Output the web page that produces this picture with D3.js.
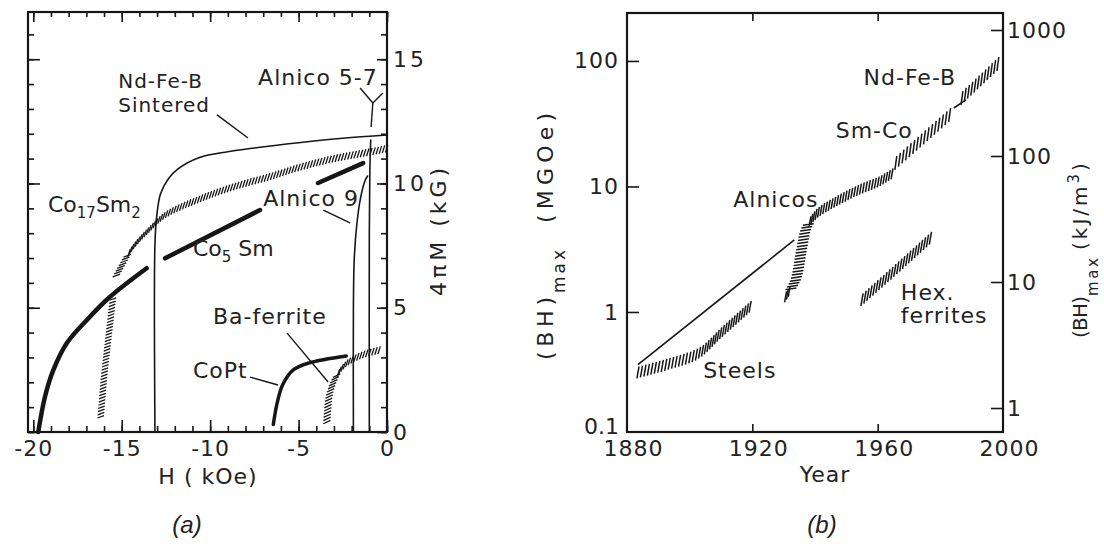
<!DOCTYPE html>
<html>
<head>
<meta charset="utf-8">
<script src="https://cdn.jsdelivr.net/npm/d3@7"></script>
<style>
  body { margin: 0; background: #fff; }
  text { font-family: 'DejaVu Sans', sans-serif; fill: #222; }
</style>
</head>
<body>
<svg id="fig" width="1104" height="544"></svg>
<script>
// ---- panel (a): demagnetization curves, H (kOe) vs 4piM (kG)
const hTicks = d3.range(-20, 1)
const hLabels = [-20, -15, -10, -5, 0]
const mTicks = d3.range(0, 17)
const mLabels = [0, 5, 10, 15]

const ndfebSintered = [[-13.12, 0], [-13.12, 7.6], [-13.02, 8.7], [-12.8, 9.6], [-12.35, 10.2], [-11.8, 10.6],
  [-10.6, 11.05], [-9, 11.28], [-7.5, 11.43], [-5, 11.64], [-2.5, 11.82], [0, 11.95]]
const co17sm2 = [[-15.3, 6.3], [-14.4, 7.4], [-13.3, 8.25], [-12.5, 8.75], [-10.5, 9.4], [-8.7, 9.86],
  [-6.5, 10.3], [-4.9, 10.66], [-3, 11.0], [-1.1, 11.25], [0, 11.4]]
const co17sm2Knee = [[-15.5, 5.35], [-15.75, 3.8], [-16.0, 2.2], [-16.2, 0.5]]
const co5sm = [[-19.72, 0], [-19.34, 1.42], [-18.87, 2.49], [-18.11, 3.57], [-16.98, 4.5], [-15.66, 5.44],
  [-13.59, 6.59], null, [-12.55, 6.99], [-7.18, 8.93], null, [-3.9, 10.02], [-1.35, 10.82]]
const alnico9 = [[-1.9, 0], [-1.9, 5], [-1.85, 7.0], [-1.7, 8.4], [-1.5, 9.4], [-1.25, 10.1], [-1.1, 10.3]]
const alnico57 = [[-1.0, 0], [-1.0, 8], [-0.97, 10.5], [-0.92, 11.75]]
const baFerrite = [[-3.4, 0.4], [-3.25, 1.5], [-2.9, 2.2], [-2.3, 2.75], [-1.4, 3.1], [-0.4, 3.3]]
const coPt = [[-6.43, 0.3], [-6.2, 1.2], [-5.9, 1.9], [-5.3, 2.5], [-4.4, 2.78], [-2.3, 3.06]]

// ---- panel (b): (BH)max vs year
const yearLabels = [1880, 1920, 1960, 2000]
const yearTicks = [1920, 1960]
const bhTicks = [1, 10, 100]
const kjTicks = [1, 10, 100, 1000]

const steels = [[1883.5, 0.33], [1894, 0.39], [1903, 0.47], [1910, 0.68], [1920, 1.14]]
const steelsTrend = [[1883.5, 0.38], [1933.4, 3.75]]
const alnicos = [[1930.6, 1.32], [1933.8, 1.8], [1935.7, 3.12], [1937.3, 4.67], [1940.5, 6.04],
  [1945.9, 7.39], [1953.9, 9.38], [1960.3, 10.9], [1965, 12.8]]
const smCo = [[1965.8, 15.4], [1974.7, 24.3], [1983.7, 38.5]]
const smCoToNd = [[1984.3, 42.2], [1988.2, 48.9]]
const ndFeB = [[1986.9, 50.7], [1992.3, 68], [1998.7, 96.4]]
const hexFerrites = [[1955, 1.25], [1966, 2.2], [1977, 3.9]]

const ink = '#161616'
const svg = d3.select('#fig')

const xa = d3.scaleLinear().domain([-20.3, 0]).range([28, 387])
const ya = d3.scaleLinear().domain([0, 16.9]).range([432, 12])
const xb = d3.scaleLinear().domain([1880, 2000]).range([627, 1003])
const yb = d3.scaleLog().domain([0.1106, 241]).range([432, 13])
const yk = d3.scaleLog().domain([0.645, 1364]).range([432, 13])

const lineOf = (x, y) => d3.line().defined(d => d).x(d => x(d[0])).y(d => y(d[1]))
  .curve(d3.curveCatmullRom.alpha(0.5))

function hatch(g, pts, x, y, o) {
  const path = g.append('path').attr('d', lineOf(x, y)(pts)).attr('fill', 'none')
  const node = path.node()
  const total = node.getTotalLength()
  const marks = []
  for (let s = 0; s <= total; s += o.step) {
    const a = node.getPointAtLength(Math.max(0, s - 1.5))
    const b = node.getPointAtLength(Math.min(total, s + 1.5))
    const p = node.getPointAtLength(s)
    const steep = Math.abs(b.y - a.y) > 1.6 * Math.abs(b.x - a.x)
    const ang = (steep ? o.steepAngle : o.angle) * Math.PI / 180
    const dx = Math.cos(ang) * o.len / 2, dy = -Math.sin(ang) * o.len / 2
    marks.push([p.x - dx, p.y - dy, p.x + dx, p.y + dy])
  }
  path.remove()
  g.append('g').selectAll('line').data(marks).join('line')
    .attr('x1', d => d[0]).attr('y1', d => d[1])
    .attr('x2', d => d[2]).attr('y2', d => d[3])
    .attr('stroke', ink).attr('stroke-width', o.width || 1.3)
}

function styleAxis(g, size) {
  g.select('.domain').remove()
  g.selectAll('line').attr('stroke', ink).attr('stroke-width', 1.6)
  g.selectAll('text').style('font-size', size + 'px').style('letter-spacing', '1px')
}

// two-line label as a single text element
const twoLines = (g, x, y, a, b, gap, size) => {
  const t = g.append('text').attr('x', x).attr('y', y).style('font-size', size + 'px').style('letter-spacing', '1px')
  t.append('tspan').attr('x', x).text(a)
  t.append('tspan').attr('x', x).attr('dy', gap).text(b)
}

// ================= panel (a)
const pa = svg.append('g')
pa.append('rect').attr('x', xa.range()[0]).attr('y', ya.range()[1])
  .attr('width', xa.range()[1] - xa.range()[0]).attr('height', ya.range()[0] - ya.range()[1])
  .attr('fill', 'none').attr('stroke', ink).attr('stroke-width', 2.2)

pa.append('g').attr('transform', `translate(0,${ya.range()[0]})`)
  .call(d3.axisBottom(xa).tickValues(hTicks).tickSize(-6).tickFormat('')).call(g => styleAxis(g, 22))
pa.append('g').attr('transform', `translate(0,${ya.range()[0]})`)
  .call(d3.axisBottom(xa).tickValues(hLabels).tickSize(-12).tickPadding(8).tickFormat(d => String(d)))
  .call(g => styleAxis(g, 22))
pa.append('g').attr('transform', `translate(0,${ya.range()[1]})`)
  .call(d3.axisTop(xa).tickValues(hTicks).tickSize(-5).tickFormat('')).call(g => styleAxis(g, 22))
pa.append('g').attr('transform', `translate(0,${ya.range()[1]})`)
  .call(d3.axisTop(xa).tickValues(hLabels).tickSize(-10).tickFormat('')).call(g => styleAxis(g, 22))
pa.append('g').attr('transform', `translate(${xa.range()[0]},0)`)
  .call(d3.axisLeft(ya).tickValues(mTicks).tickSize(-6).tickFormat('')).call(g => styleAxis(g, 22))
pa.append('g').attr('transform', `translate(${xa.range()[0]},0)`)
  .call(d3.axisLeft(ya).tickValues(mLabels).tickSize(-12).tickFormat('')).call(g => styleAxis(g, 22))
pa.append('g').attr('transform', `translate(${xa.range()[1]},0)`)
  .call(d3.axisRight(ya).tickValues(mTicks).tickSize(-6).tickFormat('')).call(g => styleAxis(g, 22))
pa.append('g').attr('transform', `translate(${xa.range()[1]},0)`)
  .call(d3.axisRight(ya).tickValues(mLabels).tickSize(-10).tickPadding(6).tickFormat(d => String(d)))
  .call(g => styleAxis(g, 22))
  .call(g => g.selectAll('text').style('letter-spacing', '3px'))

// curves
const curvesA = pa.append('g').attr('fill', 'none').attr('stroke', ink).attr('stroke-linecap', 'round')
curvesA.append('path').attr('d', lineOf(xa, ya)(ndfebSintered)).attr('stroke-width', 1.6)
curvesA.append('path').attr('d', lineOf(xa, ya)(alnico9)).attr('stroke-width', 1.6)
curvesA.append('path').attr('d', lineOf(xa, ya)(alnico57)).attr('stroke-width', 1.6)
curvesA.append('path').attr('d', lineOf(xa, ya)(co5sm)).attr('stroke-width', 4.5)
curvesA.append('path').attr('d', lineOf(xa, ya)(coPt)).attr('stroke-width', 3.5)
hatch(pa, co17sm2, xa, ya, { step: 3.2, len: 8, angle: 72, steepAngle: 20 })
hatch(pa, co17sm2Knee, xa, ya, { step: 3.2, len: 7, angle: 72, steepAngle: 20 })
hatch(pa, baFerrite, xa, ya, { step: 3.2, len: 8, angle: 72, steepAngle: 25 })

// labels and leaders
const labelsA = [
  { text: 'Alnico 5-7', h: -7.29, m: 13.96 },
  { text: 'Alnico 9', h: -7.0, m: 9.09 },
  { text: 'Ba-ferrite', h: -9.84, m: 4.35 },
  { text: 'CoPt', h: -10.97, m: 2.17 }
]
const leadersA = [
  [[-9.61, 12.76], [-7.86, 11.83]],
  [[-1.52, 13.84], [-0.8, 13.24]],
  [[-0.23, 13.64], [-0.8, 13.24]],
  [[-0.8, 13.24], [-0.9, 12.27]],
  [[-3.6, 8.93], [-2.09, 8.41]],
  [[-5.65, 3.98], [-3.33, 2.01]],
  [[-7.74, 2.21], [-6.16, 1.89]]
]
pa.append('g').selectAll('text').data(labelsA).join('text')
  .attr('x', d => xa(d.h)).attr('y', d => ya(d.m))
  .style('font-size', '22px').style('letter-spacing', '1px').text(d => d.text)
twoLines(pa, xa(-15.2), ya(13.85), 'Nd-Fe-B', 'Sintered', 24, 20)
pa.append('g').selectAll('line').data(leadersA).join('line')
  .attr('x1', d => xa(d[0][0])).attr('y1', d => ya(d[0][1]))
  .attr('x2', d => xa(d[1][0])).attr('y2', d => ya(d[1][1]))
  .attr('stroke', ink).attr('stroke-width', 1.4)

const subLabel = (g, x, y, parts) => {
  const t = g.append('text').attr('x', x).attr('y', y).style('font-size', '22px')
  parts.forEach(([s, sub]) => {
    t.append('tspan').attr('dy', sub ? 6 : (t.selectAll('tspan').size() ? -6 : 0))
      .style('font-size', sub ? '15px' : '22px').text(s)
  })
}
subLabel(pa, xa(-19.17), ya(8.61), [['Co', 0], ['17', 1], ['Sm', 0], ['2', 1]])
subLabel(pa, xa(-10.97), ya(6.84), [['Co', 0], ['5', 1], ['\u00a0Sm', 0]])

pa.append('text').attr('x', 208).attr('y', 484).attr('text-anchor', 'middle')
  .style('font-size', '22px').style('letter-spacing', '1px').text('H ( kOe)')
pa.append('text').attr('transform', 'translate(446,230) rotate(-90)').attr('text-anchor', 'middle')
  .style('font-size', '22px').style('letter-spacing', '4px').text('4\u03c0M (kG)')
pa.append('text').attr('x', 187).attr('y', 533).attr('text-anchor', 'middle')
  .style('font-family', "'Liberation Sans', sans-serif").style('font-style', 'italic')
  .style('font-size', '24px').text('(a)')

// ================= panel (b)
const pb = svg.append('g')
pb.append('rect').attr('x', xb.range()[0]).attr('y', yb.range()[1])
  .attr('width', xb.range()[1] - xb.range()[0]).attr('height', yb.range()[0] - yb.range()[1])
  .attr('fill', 'none').attr('stroke', ink).attr('stroke-width', 2.2)

pb.append('g').attr('transform', `translate(0,${yb.range()[0]})`)
  .call(d3.axisBottom(xb).tickValues(yearTicks).tickSize(-8).tickFormat('')).call(g => styleAxis(g, 22))
pb.append('g').attr('transform', `translate(0,${yb.range()[0]})`)
  .call(d3.axisBottom(xb).tickValues(yearLabels).tickSize(0).tickPadding(8).tickFormat(d => String(d)))
  .call(g => styleAxis(g, 22))
  .call(g => g.selectAll('text').attr('dx', 6))
pb.append('g').attr('transform', `translate(0,${yb.range()[1]})`)
  .call(d3.axisTop(xb).tickValues(yearTicks).tickSize(-8).tickFormat('')).call(g => styleAxis(g, 22))
pb.append('g').attr('transform', `translate(${xb.range()[0]},0)`)
  .call(d3.axisLeft(yb).tickValues(bhTicks).tickSize(-12).tickPadding(8).tickFormat(d => String(d)))
  .call(g => styleAxis(g, 22))
pb.append('text').attr('x', xb.range()[0] - 8).attr('y', yb.range()[0] - 5).attr('dy', '0.32em')
  .attr('text-anchor', 'end').style('font-size', '22px').text('0.1')
pb.append('g').attr('transform', `translate(${xb.range()[1]},0)`)
  .call(d3.axisRight(yk).tickValues(kjTicks).tickSize(-12).tickPadding(4).tickFormat(d => String(d)))
  .call(g => styleAxis(g, 22))

const curvesB = pb.append('g').attr('fill', 'none').attr('stroke', ink)
curvesB.append('path').attr('d', lineOf(xb, yb)(steelsTrend)).attr('stroke-width', 1.6)
curvesB.append('path').attr('d', lineOf(xb, yb)(smCoToNd)).attr('stroke-width', 1.6)
hatch(pb, steels, xb, yb, { step: 3.6, len: 12, angle: 80, steepAngle: 8, width: 1.5 })
hatch(pb, alnicos, xb, yb, { step: 3.2, len: 11, angle: 80, steepAngle: 8, width: 1.5 })
hatch(pb, smCo, xb, yb, { step: 4.8, len: 14, angle: 82, steepAngle: 8, width: 1.5 })
hatch(pb, ndFeB, xb, yb, { step: 4.5, len: 14, angle: 82, steepAngle: 8, width: 1.5 })
hatch(pb, hexFerrites, xb, yb, { step: 4, len: 13, angle: 80, steepAngle: 8, width: 1.5 })

const labelsB = [
  { text: 'Nd-Fe-B', year: 1955.5, v: 64.4 },
  { text: 'Sm-Co', year: 1946.6, v: 24.3 },
  { text: 'Alnicos', year: 1913.9, v: 6.87 },
  { text: 'Steels', year: 1904.3, v: 0.298 }
]
pb.append('g').selectAll('text').data(labelsB).join('text')
  .attr('x', d => xb(d.year)).attr('y', d => yb(d.v))
  .style('font-size', '22px').style('letter-spacing', '1px').text(d => d.text)
twoLines(pb, xb(1967.4), yb(1.25), 'Hex.', 'ferrites', 23, 22)

pb.append('text').attr('x', 825).attr('y', 482).attr('text-anchor', 'middle')
  .style('font-size', '22px').style('letter-spacing', '1px').text('Year')
pb.append('text').attr('x', 822).attr('y', 533).attr('text-anchor', 'middle')
  .style('font-family', "'Liberation Sans', sans-serif").style('font-style', 'italic')
  .style('font-size', '24px').text('(b)')

const vtext = (x, y, s, size, len) => pb.append('text')
  .attr('transform', `translate(${x},${y}) rotate(-90)`)
  .attr('textLength', len).attr('lengthAdjust', 'spacing')
  .style('font-size', size + 'px').text(s)
vtext(553, 360, '(BH)', 22, 63)
vtext(565, 293, 'max', 17, 43)
vtext(553, 223, '(MGOe)', 22, 110)
vtext(1087, 338, '(BH)', 20, 42)
vtext(1098, 296, 'max', 15, 38)
const kj = pb.append('text').attr('transform', 'translate(1087,250) rotate(-90)')
  .style('font-size', '20px').style('letter-spacing', '3px')
kj.append('tspan').text('(kJ/m')
kj.append('tspan').attr('dy', -8).style('font-size', '15px').text('3')
kj.append('tspan').attr('dy', 8).text(')')
</script>
</body>
</html>
